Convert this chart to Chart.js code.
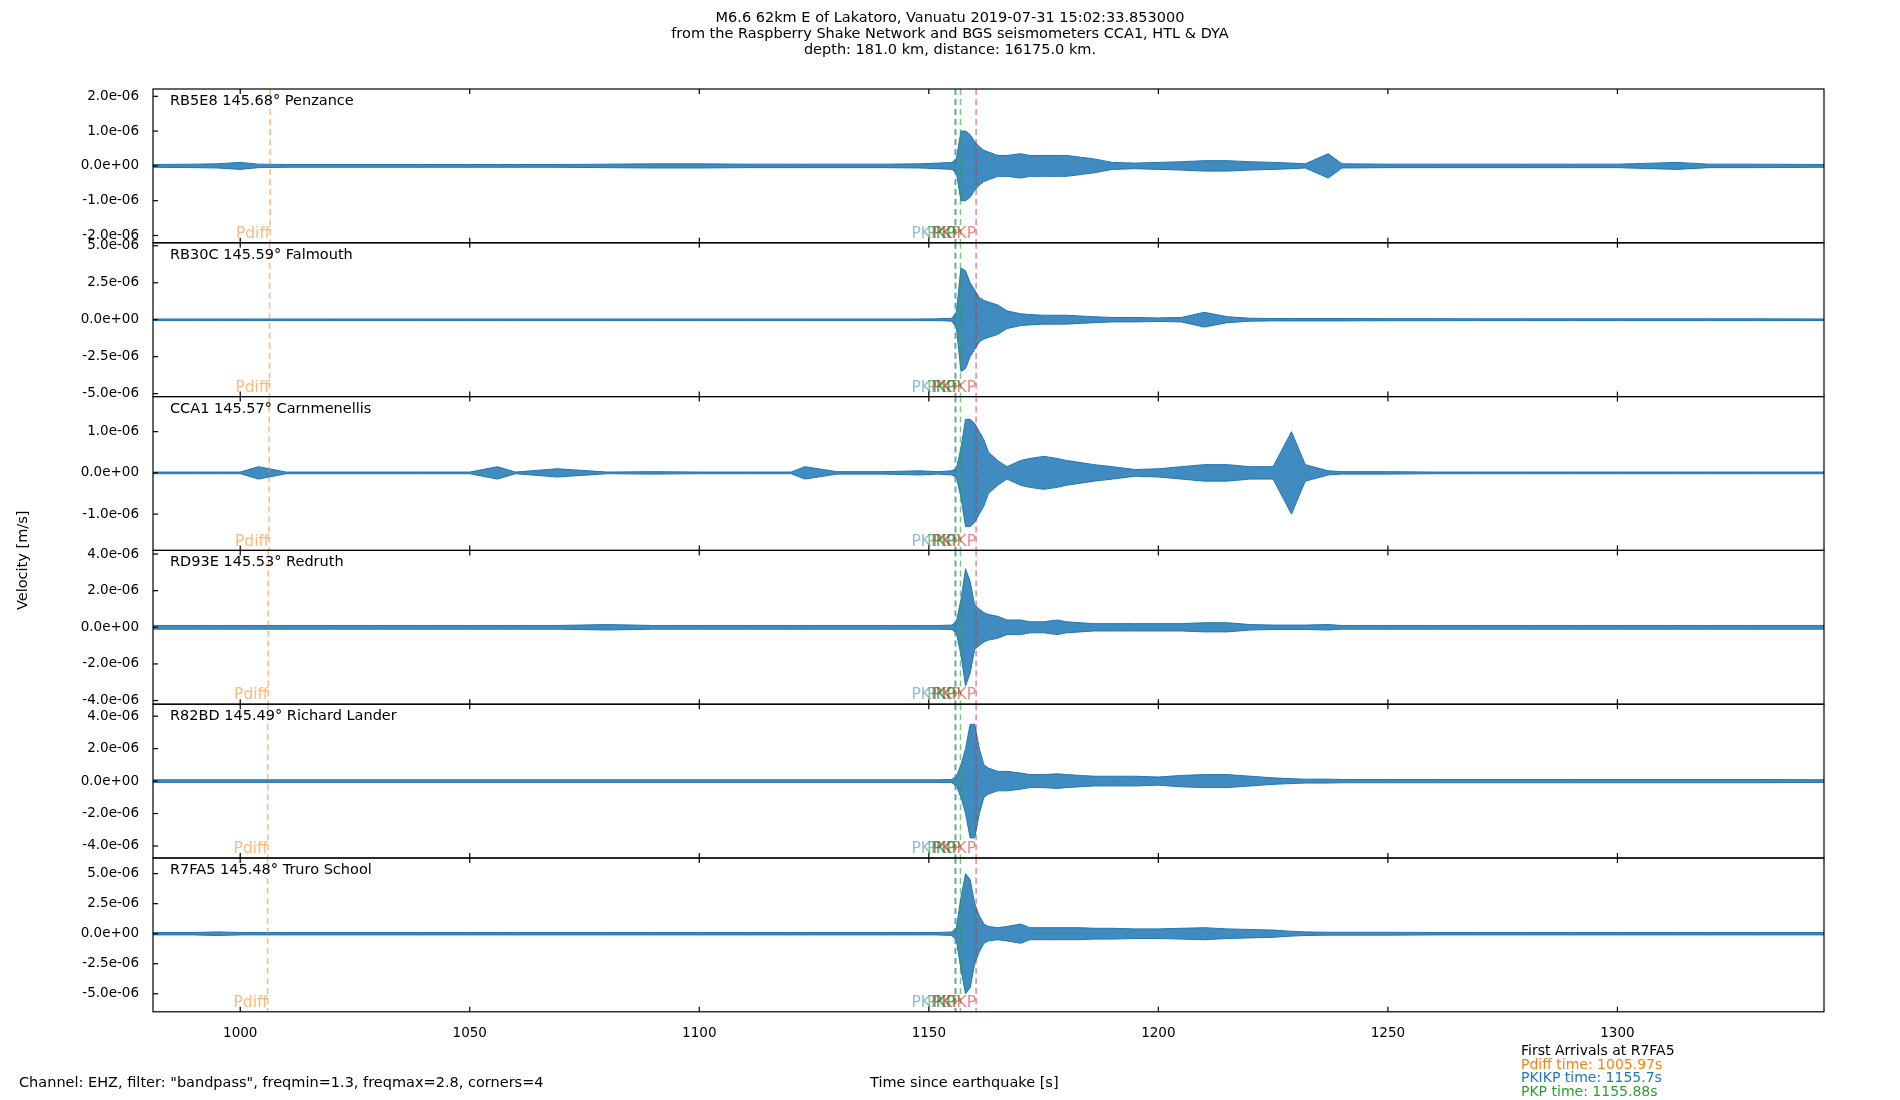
<!DOCTYPE html>
<html>
<head>
<meta charset="utf-8">
<script src="https://cdn.jsdelivr.net/npm/chart.js@4"></script>
<style>
  body { margin: 0; background: #fff; font-family: "DejaVu Sans", sans-serif; }
  #wrap { position: relative; width: 1900px; height: 1100px; }
  .txt { position: absolute; font-size: 14.5px; color: #000; white-space: nowrap; }
</style>
</head>
<body>
<div id="wrap">
  <canvas id="myChart" width="1900" height="1100"></canvas>
  <div class="txt" style="left:0;width:1900px;top:9px;text-align:center;line-height:16px;">
    M6.6 62km E of Lakatoro, Vanuatu 2019-07-31 15:02:33.853000<br>
    from the Raspberry Shake Network and BGS seismometers CCA1, HTL &amp; DYA<br>
    depth: 181.0 km, distance: 16175.0 km.
  </div>
  <div class="txt" style="left:2px;top:557px;transform:rotate(-90deg);transform-origin:center;width:40px;text-align:center;">
    <span style="display:inline-block;transform:translateX(-25px)">Velocity&nbsp;[m/s]</span>
  </div>
  <div class="txt" style="left:19px;top:1074px;">Channel: EHZ, filter: "bandpass", freqmin=1.3, freqmax=2.8, corners=4</div>
  <div class="txt" style="left:870px;top:1074px;">Time since earthquake [s]</div>
  <div class="txt" style="left:1521px;top:1044px;line-height:13.5px;font-size:14px;">
    First Arrivals at R7FA5<br>
    <span style="color:#ff7f0e">Pdiff time: 1005.97s</span><br>
    <span style="color:#1f77b4">PKIKP time: 1155.7s</span><br>
    <span style="color:#2ca02c">PKP time: 1155.88s</span>
  </div>
</div>
<script>
// sample times (s) and envelope amplitudes (x 1e-6 m/s)
const times = [981,990,995,1000,1004,1010,1020,1030,1040,1050,1056,1060,1069,1080,1090,1100,1110,1120,1123,1130,1140,1148,1152,1155,1156,1157,1158,1159,1160,1161,1162,1163,1165,1167,1170,1172,1175,1178,1180,1183,1186,1190,1195,1200,1205,1210,1215,1220,1225,1229,1232,1237,1240,1250,1260,1270,1280,1290,1300,1313,1320,1330,1345];

const stations = ["RB5E8 145.68° Penzance", "RB30C 145.59° Falmouth", "CCA1 145.57° Carnmenellis",
                  "RD93E 145.53° Redruth", "R82BD 145.49° Richard Lander", "R7FA5 145.48° Truro School"];

const ampPenzance = [0.04,0.05,0.06,0.1,0.05,0.04,0.04,0.04,0.04,0.04,0.04,0.04,0.04,0.05,0.06,0.06,0.05,0.05,0.05,0.05,0.05,0.06,0.08,0.1,0.2,1.0,1.0,0.9,0.7,0.55,0.45,0.4,0.3,0.3,0.35,0.3,0.3,0.3,0.3,0.25,0.2,0.1,0.08,0.1,0.12,0.15,0.15,0.12,0.1,0.08,0.06,0.35,0.06,0.05,0.05,0.05,0.05,0.05,0.05,0.1,0.05,0.05,0.04];
const ampFalmouth = [0.05,0.05,0.05,0.05,0.05,0.05,0.05,0.05,0.05,0.05,0.05,0.05,0.05,0.05,0.05,0.05,0.05,0.05,0.05,0.05,0.05,0.05,0.06,0.1,0.5,3.5,3.3,2.5,2.0,1.5,1.3,1.2,1.0,0.6,0.4,0.35,0.3,0.3,0.3,0.25,0.2,0.15,0.15,0.12,0.15,0.5,0.2,0.1,0.08,0.08,0.08,0.08,0.08,0.07,0.07,0.06,0.06,0.06,0.06,0.06,0.06,0.06,0.05];
const ampCarn = [0.02,0.02,0.02,0.02,0.15,0.02,0.02,0.02,0.02,0.02,0.15,0.02,0.1,0.02,0.03,0.02,0.02,0.02,0.15,0.03,0.03,0.05,0.03,0.05,0.1,0.6,1.3,1.3,1.2,1.0,0.8,0.5,0.3,0.15,0.3,0.35,0.4,0.35,0.3,0.25,0.2,0.15,0.08,0.1,0.15,0.2,0.2,0.15,0.15,1.0,0.2,0.05,0.03,0.03,0.02,0.02,0.02,0.02,0.02,0.02,0.02,0.02,0.02];
const ampRedruth = [0.1,0.1,0.1,0.1,0.1,0.1,0.1,0.1,0.1,0.1,0.1,0.1,0.1,0.15,0.1,0.1,0.1,0.1,0.1,0.1,0.1,0.1,0.1,0.12,0.3,1.5,3.2,2.5,1.2,1.0,0.8,0.7,0.6,0.4,0.4,0.3,0.3,0.4,0.3,0.25,0.2,0.2,0.2,0.2,0.2,0.25,0.25,0.15,0.12,0.12,0.12,0.15,0.1,0.1,0.1,0.1,0.1,0.1,0.1,0.1,0.1,0.1,0.1];
const ampLander = [0.08,0.08,0.08,0.08,0.08,0.08,0.08,0.08,0.08,0.08,0.08,0.08,0.08,0.08,0.08,0.08,0.08,0.08,0.08,0.08,0.08,0.08,0.08,0.1,0.3,1.0,2.0,3.5,3.5,2.0,1.0,0.8,0.6,0.6,0.5,0.4,0.4,0.45,0.4,0.35,0.3,0.3,0.3,0.25,0.35,0.4,0.4,0.3,0.2,0.15,0.12,0.12,0.1,0.1,0.1,0.1,0.1,0.1,0.1,0.1,0.1,0.1,0.08];
const ampTruro = [0.1,0.1,0.15,0.1,0.1,0.1,0.1,0.1,0.1,0.1,0.1,0.1,0.1,0.1,0.1,0.1,0.1,0.1,0.1,0.1,0.1,0.1,0.1,0.15,0.5,3.0,5.0,4.5,2.5,1.5,0.8,0.6,0.5,0.6,0.8,0.5,0.5,0.5,0.5,0.5,0.45,0.45,0.4,0.4,0.45,0.5,0.4,0.35,0.3,0.2,0.15,0.12,0.12,0.12,0.1,0.1,0.1,0.1,0.1,0.1,0.1,0.1,0.1];
const amps = [ampPenzance, ampFalmouth, ampCarn, ampRedruth, ampLander, ampTruro];

// y range (x 1e-6) and ticks per panel
const yRanges = [[-2.21, 2.21], [-5.2, 5.2], [-1.88, 1.85], [-4.2, 4.2], [-4.74, 4.74], [-6.5, 6.3]];
const yTicks = [[-2, -1, 0, 1, 2], [-5, -2.5, 0, 2.5, 5], [-1, 0, 1], [-4, -2, 0, 2, 4], [-4, -2, 0, 2, 4], [-5, -2.5, 0, 2.5, 5]];
const xTicks = [1000, 1050, 1100, 1150, 1200, 1250, 1300];

// arrival times
const pdiffTimes = [1006.5, 1006.4, 1006.3, 1006.1, 1006.0, 1005.97];
const phaseNames = ["PKIKP", "PKP", "PKP", "PKiKP"];
const phaseTimes = [1155.7, 1155.88, 1156.9, 1160.3];
const phaseColors = ["rgba(31,119,180,0.5)", "rgba(44,160,44,0.6)", "rgba(44,160,44,0.6)", "rgba(214,39,40,0.55)"];

function fmtExp(v) {
    let s = (v * 1e-6).toExponential(1);
    if (v === 0) s = "0.0e+0";
    return s.replace(/e([+-])(\d)$/, "e$10$2");
}

const datasets = [];
const scales = {
    x: {
        type: 'linear', min: 981, max: 1345,
        grid: { display: false },
        border: { display: false },
        afterBuildTicks: ax => { ax.ticks = xTicks.map(v => ({ value: v })); },
        ticks: { color: '#000', font: { family: 'DejaVu Sans', size: 13.5 }, padding: 6, callback: v => String(v) }
    }
};
for (let i = 0; i < 6; i++) {
    const id = 'y' + i;
    datasets.push({
        data: times.map((t, k) => ({ x: t, y: amps[i][k] })),
        yAxisID: id, borderColor: '#1f77b4', borderWidth: 1, pointRadius: 0, fill: false
    });
    datasets.push({
        data: times.map((t, k) => ({ x: t, y: -amps[i][k] })),
        yAxisID: id, borderColor: '#1f77b4', borderWidth: 1, pointRadius: 0,
        fill: '-1', backgroundColor: 'rgba(31,119,180,0.85)'
    });
}
// stacked axes are laid out bottom-up, so add the bottom panel first
for (let i = 5; i >= 0; i--) {
    scales['y' + i] = {
        type: 'linear', position: 'left', stack: 'v', stackWeight: 1,
        min: yRanges[i][0], max: yRanges[i][1],
        grid: { display: false },
        border: { display: false },
        afterBuildTicks: ax => { ax.ticks = yTicks[i].map(v => ({ value: v })); },
        afterFit: ax => { ax.width = 153; },
        ticks: { color: '#000', font: { family: 'DejaVu Sans', size: 13.5 }, callback: v => fmtExp(v), padding: 6 }
    };
}

const panelPlugin = {
    id: 'panels',
    afterDatasetsDraw(chart) {
        const ctx = chart.ctx;
        const x = chart.scales.x;
        const left = chart.chartArea.left, right = chart.chartArea.right;
        ctx.save();
        for (let i = 0; i < 6; i++) {
            const ys = chart.scales['y' + i];
            const top = ys.top, bot = ys.bottom;
            ctx.setLineDash([6, 4]);
            ctx.lineWidth = 1.5;
            const px = x.getPixelForValue(pdiffTimes[i]);
            ctx.strokeStyle = 'rgba(255,127,14,0.55)';
            ctx.beginPath(); ctx.moveTo(px, top); ctx.lineTo(px, bot); ctx.stroke();
            for (let p = 0; p < phaseTimes.length; p++) {
                const qx = x.getPixelForValue(phaseTimes[p]);
                ctx.strokeStyle = phaseColors[p];
                ctx.beginPath(); ctx.moveTo(qx, top); ctx.lineTo(qx, bot); ctx.stroke();
            }
            ctx.setLineDash([]);
            ctx.font = '15.5px "DejaVu Sans"';
            ctx.textAlign = 'right';
            ctx.textBaseline = 'bottom';
            ctx.fillStyle = 'rgba(255,127,14,0.55)';
            ctx.fillText('Pdiff', px, bot - 1);
            for (let p = 0; p < phaseTimes.length; p++) {
                ctx.fillStyle = phaseColors[p];
                ctx.fillText(phaseNames[p], x.getPixelForValue(phaseTimes[p]), bot - 1);
            }
            ctx.fillStyle = '#000';
            ctx.textAlign = 'left';
            ctx.textBaseline = 'top';
            ctx.font = '14.5px "DejaVu Sans"';
            ctx.fillText(stations[i], left + 17, top + 5);
            ctx.strokeStyle = '#000';
            ctx.lineWidth = 1.2;
            ctx.strokeRect(left, top, right - left, bot - top);
            ys.ticks.forEach(t => {
                const py = ys.getPixelForValue(t.value);
                ctx.beginPath(); ctx.moveTo(left, py); ctx.lineTo(left + 5, py); ctx.stroke();
            });
            xTicks.forEach(v => {
                const qx = x.getPixelForValue(v);
                ctx.beginPath(); ctx.moveTo(qx, top); ctx.lineTo(qx, top + 5); ctx.stroke();
                ctx.beginPath(); ctx.moveTo(qx, bot); ctx.lineTo(qx, bot - 5); ctx.stroke();
            });
        }
        ctx.restore();
    }
};

new Chart(document.getElementById('myChart'), {
    type: 'line',
    data: { datasets: datasets },
    options: {
        responsive: false,
        animation: false,
        layout: { padding: { top: 89, right: 76, bottom: 52, left: 0 } },
        plugins: { legend: { display: false }, tooltip: { enabled: false }, filler: { propagate: false } },
        scales: scales
    },
    plugins: [panelPlugin]
});
</script>
</body>
</html>
